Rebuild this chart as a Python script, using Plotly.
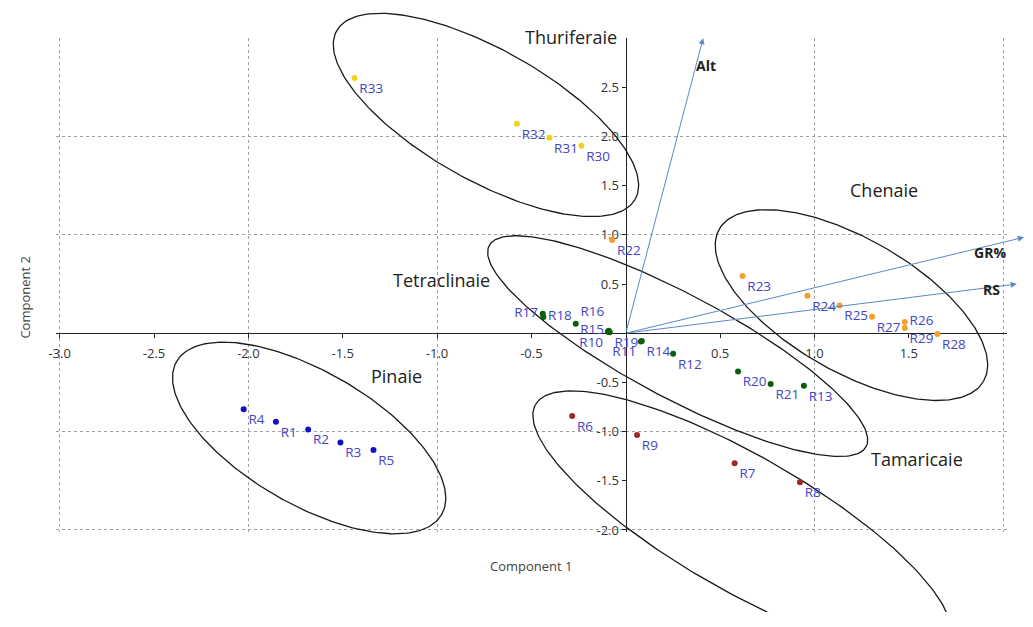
import numpy as np
import plotly.graph_objects as go

# ---------------- data ----------------
pin_names = ["R1", "R2", "R3", "R4", "R5"]
pin_x = [-1.854, -1.683, -1.512, -2.025, -1.337]
pin_y = [-0.901, -0.978, -1.112, -0.774, -1.186]

tam_names = ["R6", "R7", "R8", "R9"]
tam_x = [-0.284, 0.577, 0.923, 0.060]
tam_y = [-0.841, -1.323, -1.514, -1.035]

tet_names = ["R10", "R11", "R12", "R13", "R14", "R15", "R16", "R17", "R18", "R19", "R20", "R21"]
tet_x = [-0.095, 0.080, 0.251, 0.944, 0.085, -0.090, -0.265, -0.440, -0.437, -0.085, 0.595, 0.768]
tet_y = [0.015, -0.085, -0.208, -0.533, -0.080, 0.025, 0.097, 0.198, 0.164, 0.010, -0.389, -0.516]
tet_pos = ["bottom left", "bottom left", "bottom right", "bottom right", "bottom right",
           "middle left", "top right", "middle left", "middle right", "bottom right",
           "bottom right", "bottom right"]

che_names = ["R22", "R23", "R24", "R25", "R26", "R27", "R28", "R29"]
che_x = [-0.072, 0.619, 0.963, 1.133, 1.479, 1.305, 1.651, 1.479]
che_y = [0.948, 0.583, 0.382, 0.281, 0.114, 0.168, -0.007, 0.053]
che_pos = ["bottom right", "bottom right", "bottom right", "bottom right", "middle right",
           "bottom right", "bottom right", "bottom right"]

thu_names = ["R30", "R31", "R32", "R33"]
thu_x = [-0.235, -0.405, -0.577, -1.437]
thu_y = [1.906, 1.987, 2.131, 2.596]

# loading vectors
var_names = ["Alt", "GR%", "RS"]
var_x = [0.41, 2.11, 2.072]
var_y = [3.0, 0.975, 0.50]

# axis tick labels
x_ticks = [-3.0, -2.5, -2.0, -1.5, -1.0, -0.5, 0.5, 1.0, 1.5]
x_ticktext = ["-3.0", "-2.5", "-2.0", "-1.5", "-1.0", "-0.5", "0.5", "1.0", "1.5"]
y_ticks = [-2.0, -1.5, -1.0, -0.5, 0.5, 1.0, 1.5, 2.0, 2.5]
y_ticktext = ["-2.0", "-1.5", "-1.0", "-0.5", "0.5", "1.0", "1.5", "2.0", "2.5"]
x_grid = [-3, -2, -1, 1, 2]
y_grid = [-2, -1, 1, 2]

# ---------------- layout geometry ----------------
PAGE_MARGIN = 8                    # default <body> margin of the html page
W, H = 1033 - 2 * PAGE_MARGIN, 627 - 2 * PAGE_MARGIN
PX_PER_X, PX_PER_Y = 190.0, 99.5   # screen scale of the reference
ORIGIN_PX = (623.0, 337.0)         # screen position of (0, 0) in the reference
X_RANGE = [(PAGE_MARGIN - ORIGIN_PX[0]) / PX_PER_X, (PAGE_MARGIN + W - ORIGIN_PX[0]) / PX_PER_X]
Y_RANGE = [(ORIGIN_PX[1] - PAGE_MARGIN - H) / PX_PER_Y, (ORIGIN_PX[1] - PAGE_MARGIN) / PX_PER_Y]
FX = [-3.02, 2.02]          # framed plot window (slightly padded so edge gridlines show)
FY = [-2.02, 3.0]
SX = W / (X_RANGE[1] - X_RANGE[0])
SY = H / (Y_RANGE[1] - Y_RANGE[0])


def xf(v):
    return (v - X_RANGE[0]) / (X_RANGE[1] - X_RANGE[0])


def yf(v):
    return (v - Y_RANGE[0]) / (Y_RANGE[1] - Y_RANGE[0])


def ellipse(cx, cy, a_px, b_px, ang_deg, n=240):
    t = np.linspace(0, 2 * np.pi, n)
    th = np.radians(ang_deg)
    dx = a_px * np.cos(t) * np.cos(th) - b_px * np.sin(t) * np.sin(th)
    dy = a_px * np.cos(t) * np.sin(th) + b_px * np.sin(t) * np.cos(th)
    return cx + dx / SX, cy - dy / SY


# group ellipses: centre (data), semi-axes (px), tilt (deg, clockwise on screen)
ellipses = [
    (-0.741, 2.219, 172.8, 66.0, 29.6),   # Thuriferaie
    (0.275, -0.131, 215.3, 52.2, 28.2),   # Tetraclinaie
    (0.616, -1.930, 240.0, 68.0, 30.0),   # Tamaricaie
    (1.196, 0.286, 153.7, 67.1, 30.1),    # Chenaie
    (-1.678, -1.065, 154.3, 67.2, 30.2),  # Pinaie
]

FONT = "Open Sans"
LABEL_COLOR = "#4444c4"

fig = go.Figure()

# dummy traces to create the grid subplot and its overlay
fig.add_trace(go.Scatter(x=[None], y=[None], xaxis="x", yaxis="y", showlegend=False, hoverinfo="skip"))
fig.add_trace(go.Scatter(x=[None], y=[None], xaxis="x3", yaxis="y3", showlegend=False, hoverinfo="skip"))

for (cx, cy, a, b, ang) in ellipses:
    ex, ey = ellipse(cx, cy, a, b, ang)
    fig.add_trace(go.Scatter(x=ex, y=ey, mode="lines", xaxis="x2", yaxis="y2",
                             line=dict(color="#1a1a1a", width=1.3),
                             showlegend=False, hoverinfo="skip"))

groups = [
    (pin_names, pin_x, pin_y, "#1010c8", ["bottom right"] * len(pin_names)),
    (tam_names, tam_x, tam_y, "#a02828", ["bottom right"] * len(tam_names)),
    (tet_names, tet_x, tet_y, "#0b5e0b", tet_pos),
    (che_names, che_x, che_y, "#f0a030", che_pos),
    (thu_names, thu_x, thu_y, "#f2d21e", ["bottom right"] * len(thu_names)),
]
for names, gx, gy, col, pos in groups:
    fig.add_trace(go.Scatter(
        x=gx, y=gy, mode="markers+text", text=names, textposition=pos,
        xaxis="x2", yaxis="y2",
        marker=dict(color=col, size=6),
        textfont=dict(family=FONT, size=13.5, color=LABEL_COLOR),
        cliponaxis=False, showlegend=False, hoverinfo="skip"))

annotations = []
for vx, vy in zip(var_x, var_y):
    annotations.append(dict(
        x=vx, y=vy, ax=0, ay=0, xref="x2", yref="y2", axref="x2", ayref="y2",
        text="", showarrow=True, arrowhead=2, arrowsize=1.2, arrowwidth=1,
        arrowcolor="#5b87c5", standoff=0))

var_lab_x = [0.424, 1.929, 1.939]
var_lab_y = [2.724, 0.824, 0.447]
for name, lx, ly in zip(var_names, var_lab_x, var_lab_y):
    annotations.append(dict(x=lx, y=ly, xref="x2", yref="y2", text="<b>" + name + "</b>",
                            showarrow=False, font=dict(family=FONT, size=14, color="#222222")))

group_names = ["Thuriferaie", "Chenaie", "Tetraclinaie", "Pinaie", "Tamaricaie"]
group_lx = [-0.29, 1.368, -0.979, -1.216, 1.542]
group_ly = [3.015, 1.452, 0.543, -0.432, -1.276]
for name, lx, ly in zip(group_names, group_lx, group_ly):
    annotations.append(dict(x=lx, y=ly, xref="x2", yref="y2", text=name, showarrow=False,
                            font=dict(family=FONT, size=18, color="#222222")))

annotations.append(dict(x=-0.5, y=-2.362, xref="x2", yref="y2", text="Component 1",
                        showarrow=False, font=dict(family=FONT, size=13, color="#444444")))
annotations.append(dict(x=-3.184, y=0.372, xref="x2", yref="y2", text="Component 2",
                        textangle=-90, showarrow=False,
                        font=dict(family=FONT, size=13, color="#444444")))

fig.update_layout(
    width=W, height=H,
    margin=dict(l=0, r=0, t=0, b=0),
    paper_bgcolor="white", plot_bgcolor="rgba(0,0,0,0)",
    showlegend=False, hovermode=False,
    font=dict(family=FONT, size=13, color="#333333"),
    # grid subplot
    xaxis=dict(domain=[xf(FX[0]), xf(FX[1])], range=FX, tickmode="array", tickvals=x_grid,
               showgrid=True, gridcolor="#a0a0a0", griddash="dot", gridwidth=1,
               showticklabels=False, ticks="", showline=False, zeroline=False,
               anchor="y"),
    yaxis=dict(domain=[yf(FY[0]), yf(FY[1])], range=FY, tickmode="array", tickvals=y_grid,
               showgrid=True, gridcolor="#a0a0a0", griddash="dot", gridwidth=1,
               showticklabels=False, ticks="", showline=False, zeroline=False,
               anchor="x"),
    # axes crossing at the origin
    xaxis3=dict(overlaying="x", range=FX, anchor="free", position=yf(0),
                tickmode="array", tickvals=x_ticks, ticktext=x_ticktext,
                showgrid=False, zeroline=False, showline=True, linecolor="#222222",
                linewidth=1.4, ticks="outside", ticklen=4, tickcolor="#222222",
                ticklabelstandoff=4,
                tickfont=dict(family=FONT, size=13, color="#333333")),
    yaxis3=dict(overlaying="y", range=FY, anchor="free", position=xf(0),
                tickmode="array", tickvals=y_ticks, ticktext=y_ticktext,
                showgrid=False, zeroline=False, showline=True, linecolor="#222222",
                linewidth=1.4, ticks="outside", ticklen=4, tickcolor="#222222",
                tickfont=dict(family=FONT, size=13, color="#333333")),
    # data window covering the whole figure
    xaxis2=dict(domain=[0, 1], range=X_RANGE, visible=False, anchor="y2"),
    yaxis2=dict(domain=[0, 1], range=Y_RANGE, visible=False, anchor="x2"),
    annotations=annotations,
)

fig.write_html("out.html")
